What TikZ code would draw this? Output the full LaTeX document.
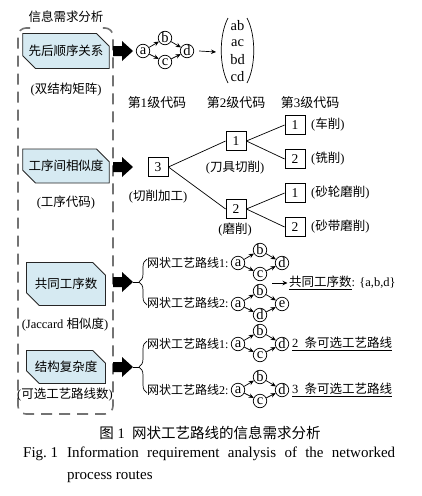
\documentclass[tikz,border=0pt]{standalone}
\usepackage{fontspec}
\setmainfont{Liberation Serif}
\newfontfamily\cjk{Noto Sans CJK SC}
\usetikzlibrary{arrows.meta,decorations.pathreplacing,shapes.misc}
\definecolor{boxblue}{RGB}{214,234,242}
\newcommand\zh[1]{{\cjk #1}}
\newcommand\fatarrow[1]{\fill[black,shift={(#1)}] (0,-5) -- (9,-5) -- (9,-10) -- (20,0) -- (9,10) -- (9,5) -- (0,5) -- cycle;}
\newcommand\routegraph[5]{%
  \begin{scope}[shift={(#2,#3)}]
    \node[circ] (#1a) at (0,0) {a};
    \node[circ] (#1b) at (22,-13) {b};
    \node[circ] (#1c) at (22,11) {#4};
    \node[circ] (#1d) at (44,0) {#5};
  \end{scope}
  \draw[garrow] (#1a) -- (#1b);
  \draw[garrow] (#1a) -- (#1c);
  \draw[garrow] (#1b) -- (#1d);
  \draw[garrow] (#1c) -- (#1d);
}
\begin{document}
\begin{tikzpicture}[x=1pt,y=-1pt,
  txt/.style={font=\fontsize{12.5}{14}\selectfont, inner sep=0pt},
  rtxt/.style={font=\fontsize{12}{14}\selectfont, inner sep=0pt, anchor=west},
  infobox/.style={chamfered rectangle, chamfered rectangle corners={north east,south west},
    chamfered rectangle xsep=7pt, chamfered rectangle ysep=7pt, draw=black!85, line width=0.8pt,
    fill=boxblue, minimum width=79pt, inner sep=0pt, font=\cjk\fontsize{12.5}{14}\selectfont},
  circ/.style={circle, draw, line width=0.7pt, minimum size=13.5pt, inner sep=0pt, font=\fontsize{14.5}{14}\selectfont},
  garrow/.style={-{Stealth[length=5pt,width=4.5pt]}, line width=0.7pt},
  tbox/.style={draw, line width=0.8pt, minimum width=20pt, minimum height=19pt, inner sep=0pt, font=\fontsize{13.5}{13}\selectfont},
  tline/.style={line width=0.7pt},
  dashbox/.style={draw=black!55, line width=1.6pt, dash pattern=on 11pt off 7pt},
  captxt/.style={font=\fontsize{15}{22}\selectfont, inner sep=0pt, anchor=base west},
  ]
\useasboundingbox (0,0) rectangle (422,496);

% outer dashed frame
\draw[dashbox, rounded corners=8pt] (30,28) -- (18,28) -- (18,414) -- (113,414) -- (113,28) -- (101,28);
\node[txt, font=\cjk\fontsize{12.5}{14}\selectfont] (title) at (66,17) {信息需求分析};

% left boxes
\node[infobox, minimum height=35pt] (box1) at (66,51) {先后顺序关系};
\node[txt] (lab1) at (66,90) {(\zh{双结构矩阵})};
\node[infobox, minimum height=34pt] (box2) at (66,166) {工序间相似度};
\node[txt] (lab2) at (66,203) {(\zh{工序代码})};
\node[infobox, minimum height=43pt] (box3) at (66,284) {共同工序数};
\node[txt] (lab3) at (65,325) {(Jaccard \zh{相似度})};
\node[infobox, minimum height=33pt] (box4) at (66,367) {结构复杂度};
\node[txt] (lab4) at (65,395) {(\zh{可选工艺路线数})};

% fat arrows
\fatarrow{113,51}
\fatarrow{113,167}
\fatarrow{113,282}
\fatarrow{113,367}

% level 1 graph and matrix
\routegraph{g}{143}{51}{c}{d}
\coordinate (matl) at (216,52);
\draw[garrow] ([xshift=5pt]gd.east) -- (matl);
\draw[line width=0.7pt] (228,18) .. controls (219,35) and (219,66) .. (228,83);
\draw[line width=0.7pt] (247,18) .. controls (256,35) and (256,66) .. (247,83);
\node[font=\fontsize{14.5}{14}\selectfont, inner sep=0pt] (m1) at (237.5,26) {ab};
\node[font=\fontsize{14.5}{14}\selectfont, inner sep=0pt] (m2) at (237.5,43) {ac};
\node[font=\fontsize{14.5}{14}\selectfont, inner sep=0pt] (m3) at (237.5,60) {bd};
\node[font=\fontsize{14.5}{14}\selectfont, inner sep=0pt] (m4) at (237.5,77) {cd};

% level labels
\node[txt, font=\fontsize{13}{14}\selectfont] (lv1) at (157,103) {\zh{第}1\zh{级代码}};
\node[txt, font=\fontsize{13}{14}\selectfont] (lv2) at (236,103) {\zh{第}2\zh{级代码}};
\node[txt, font=\fontsize{13}{14}\selectfont] (lv3) at (310,103) {\zh{第}3\zh{级代码}};

% tree
\node[tbox] (t3) at (158,167) {3};
\node[tbox] (t1) at (236,141) {1};
\node[tbox] (t2) at (236,209) {2};
\node[tbox] (t11) at (295,125) {1};
\node[tbox] (t12) at (295,159) {2};
\node[tbox] (t21) at (295,193) {1};
\node[tbox] (t22) at (295,227) {2};
\draw[tline] (t3.east) -- (t1.west);
\draw[tline] (t3.east) -- (t2.west);
\draw[tline] (t1.east) -- (t11.west);
\draw[tline] (t1.east) -- (t12.west);
\draw[tline] (t2.east) -- (t21.west);
\draw[tline] (t2.east) -- (t22.west);
\node[txt] (lt3) at (158,197) {(\zh{切削加工})};
\node[txt] (lt1) at (235,168) {(\zh{刀具切削})};
\node[txt] (lt2) at (235,230) {(\zh{磨削})};
\node[txt, anchor=west] (lt11) at (311,125) {(\zh{车削})};
\node[txt, anchor=west] (lt12) at (311,159) {(\zh{铣削})};
\node[txt, anchor=west] (lt21) at (311,193) {(\zh{砂轮磨削})};
\node[txt, anchor=west] (lt22) at (311,227) {(\zh{砂带磨削})};

% section 3: common operations
\draw[tline, decorate, decoration={brace, amplitude=8pt}] (147,305) -- (147,259);
\coordinate (br3) at (139,282);
\draw[tline] (133,282) -- (br3);
\node[rtxt] (r31) at (147,263) {\zh{网状工艺路线}1:};
\node[rtxt] (r32) at (147,303) {\zh{网状工艺路线}2:};
\routegraph{p}{238}{263}{c}{d}
\routegraph{q}{238}{304}{d}{e}
\coordinate (cs) at (272,283);
\node[txt, anchor=west] (common) at (289,283) {\underline{\zh{共同工序数}}: \{a,b,d\}};
\draw[garrow] (cs) -- ([xshift=-1.5pt]common.west);

% section 4: structural complexity
\draw[tline, decorate, decoration={brace, amplitude=8pt}] (147,393) -- (147,341);
\coordinate (br4) at (139,367);
\draw[tline] (133,367) -- (br4);
\node[rtxt] (r41) at (147,344) {\zh{网状工艺路线}1:};
\node[rtxt] (r42) at (147,390) {\zh{网状工艺路线}2:};
\routegraph{u}{238}{344}{c}{d}
\routegraph{v}{238}{390}{c}{d}
\node[txt, anchor=west] (n2) at (292,344) {\underline{2\ \ \zh{条可选工艺路线}}};
\node[txt, anchor=west] (n3) at (292,390) {\underline{3\ \ \zh{条可选工艺路线}}};

% caption
\node[font=\fontsize{14.5}{16}\selectfont, inner sep=0pt] (cap1) at (210,433) {\zh{图}\ 1\ \ \zh{网状工艺路线的信息需求分析}};
\node[captxt] (fig) at (23,457) {Fig.~1};
\node[captxt] (cap2) at (67,457) {\makebox[328pt][s]{Information requirement analysis of the networked}};
\node[captxt] (cap3) at (67,479) {process routes};
\end{tikzpicture}
\end{document}
